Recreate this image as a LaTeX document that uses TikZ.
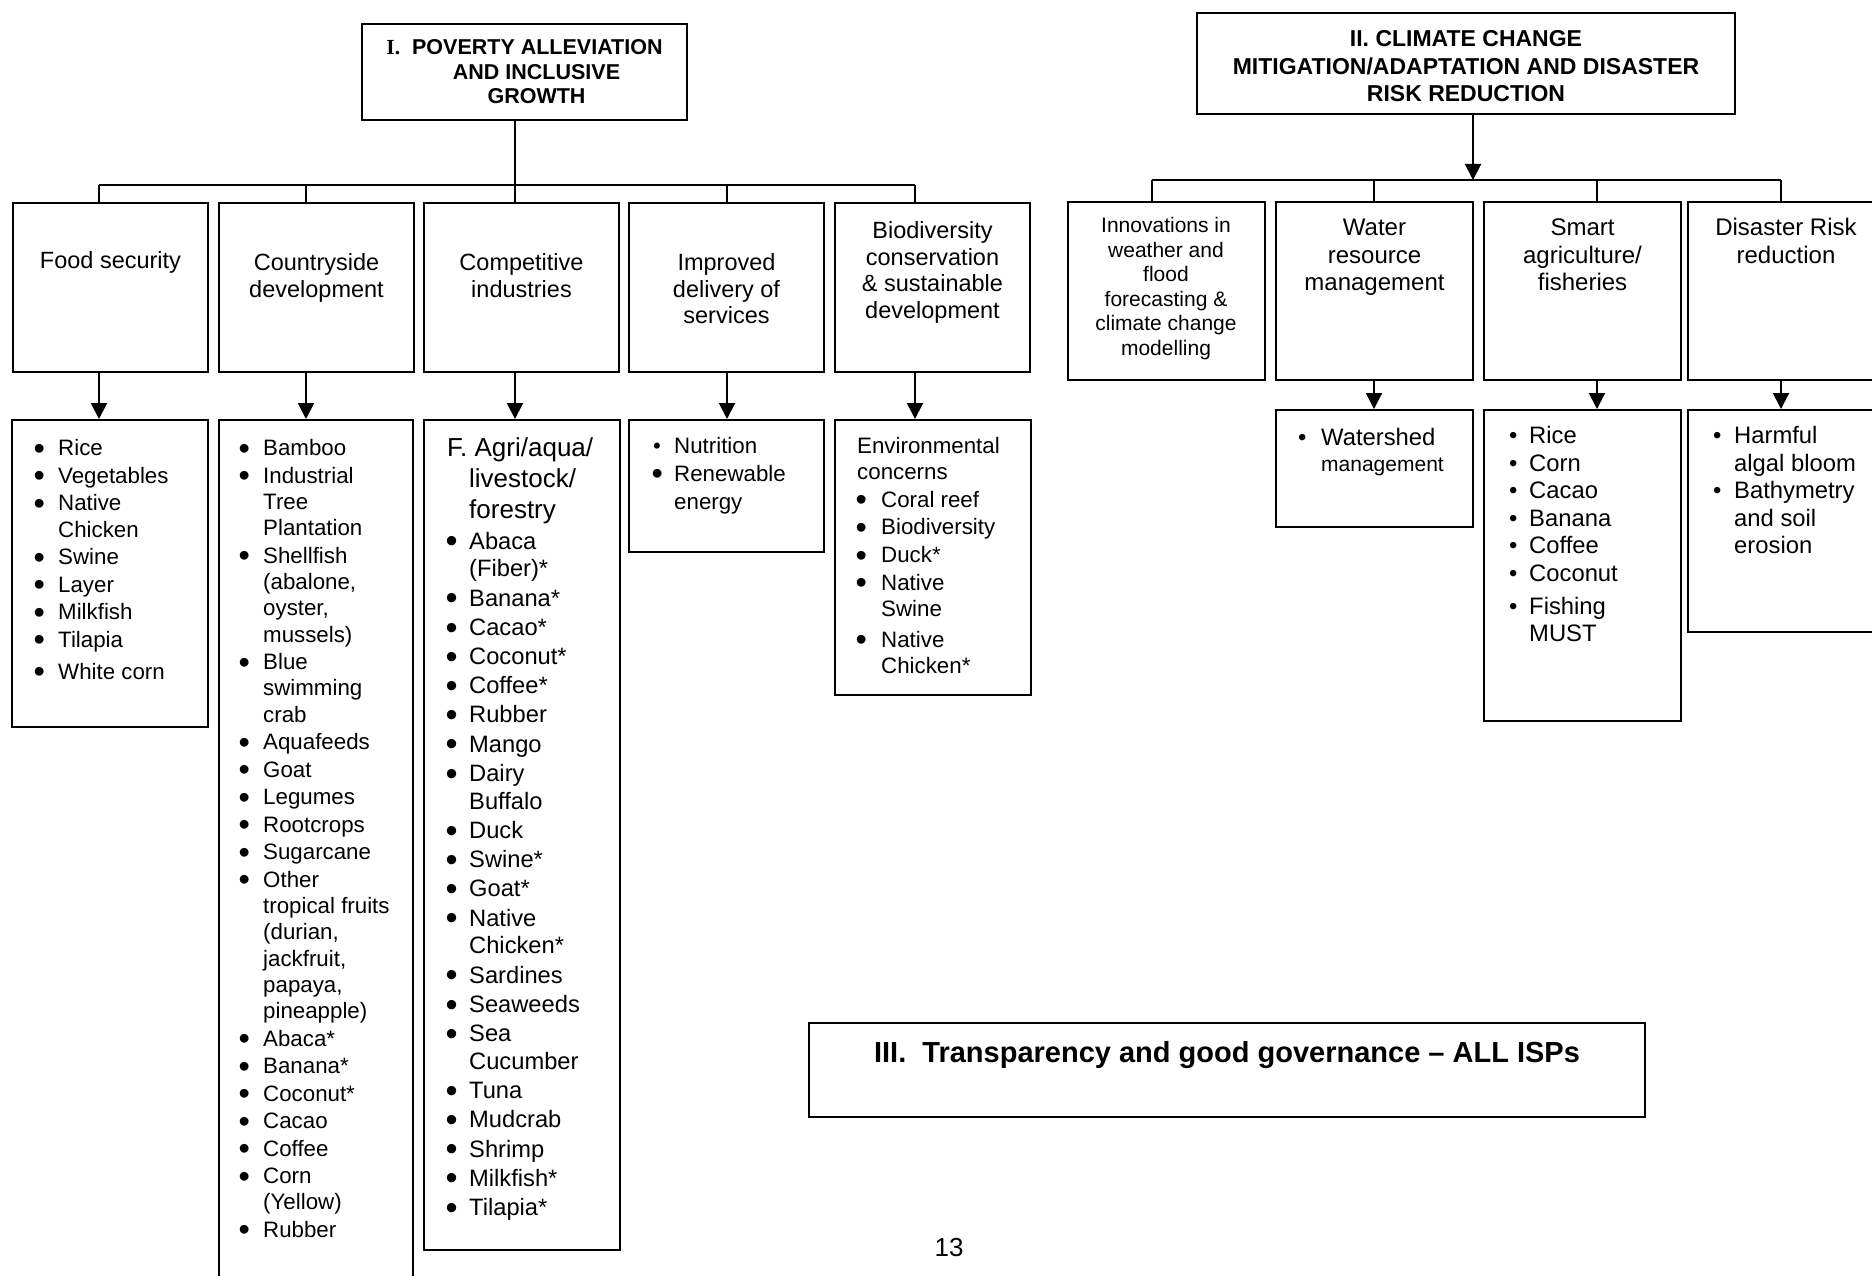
\documentclass[tikz,border=0pt]{standalone}
\usepackage{fontspec}
\setmainfont{Liberation Sans}
\newfontfamily\serifI{Liberation Serif}
\usetikzlibrary{arrows.meta}

% lists and stacked lines, baseline on the first row
\newlength{\igap}
\newcommand{\stack}[1]{\begin{tabular}[t]{@{}c@{}}#1\end{tabular}}
\newcommand{\blist}[3]{\setlength{\igap}{#2}\begin{tabular}[t]{@{}p{#1}@{}l@{}}#3\end{tabular}}
\newcommand{\bigbul}{\hspace*{-1.5pt}\raisebox{-0.16em}{\scalebox{1.45}{\textbullet}}}
\newcommand{\itm}[1]{\bigbul & #1\\[\igap]}
\newcommand{\sitm}[1]{\textbullet & #1\\[\igap]}
\newcommand{\hd}[1]{\multicolumn{2}{@{}l@{}}{#1}}
\newcommand{\gap}[1]{\noalign{\vskip #1}}

% fonts
\newcommand{\fcat}{\fontsize{23.5pt}{26.7pt}\selectfont}
\newcommand{\fcc}{\fontsize{24pt}{27.5pt}\selectfont}
\newcommand{\flist}{\fontsize{22.3pt}{26.3pt}\selectfont}
\newcommand{\fcomp}{\fontsize{23.7pt}{27.9pt}\selectfont}
\newcommand{\fhd}{\fontsize{26pt}{30pt}\selectfont}
\newcommand{\fsec}{\fontsize{23.8pt}{27.5pt}\selectfont}

\tikzset{
  box/.style={draw, line width=2pt, inner sep=0pt},
  conn/.style={line width=2pt},
  arr/.style={line width=2pt, -{Triangle[length=16pt,width=16pt]}},
  txt/.style={inner sep=0pt, anchor=base},
  ltxt/.style={inner sep=0pt, anchor=base west},
  catbox/.style={box, minimum width=195pt, minimum height=169pt},
  ccbox/.style={box, minimum width=197pt, minimum height=178pt}
}

\begin{document}
\begin{tikzpicture}[x=1pt, y=-1pt]
  \useasboundingbox (0,0) rectangle (1872,1276);
  \clip (0,0) rectangle (1872,1276);

  % I. Poverty alleviation
  \node[box, minimum width=325pt, minimum height=96pt, align=center,
        font=\fontsize{21.5pt}{24.5pt}\selectfont\bfseries] (povI) at (524.5,72)
        {{\serifI I.}\ \ POVERTY ALLEVIATION\\\hspace*{24pt}AND INCLUSIVE\\\hspace*{24pt}GROWTH};
  \foreach \n/\x in {food/110.5, country/316.5, compet/521.5, improv/726.5, biodiv/932.5}
    \node[catbox] (\n) at (\x,287.5) {};
  \begin{scope}[font=\fcat]
    \node[txt] (foodT) at (110.5,268.5) {\stack{Food security}};
    \node[txt] (countryT) at (316.5,270.5) {\stack{Countryside\\development}};
    \node[txt] (competT) at (521.5,270.5) {\stack{Competitive\\industries}};
    \node[txt] (improvT) at (726.5,270.5) {\stack{Improved\\delivery of\\services}};
    \node[txt] (biodivT) at (932.5,238.5) {\stack{Biodiversity\\conservation\\\& sustainable\\development}};
  \end{scope}

  % lists under I
  \node[box, minimum width=196pt, minimum height=307pt] (foodL) at (110,573.5) {};
  \node[box, minimum width=194pt, minimum height=870pt] (countryL) at (316,855) {};
  \node[box, minimum width=196pt, minimum height=830pt] (competL) at (522,835) {};
  \node[box, minimum width=195pt, minimum height=132pt] (improvL) at (726.5,486) {};
  \node[box, minimum width=196pt, minimum height=275pt] (biodivL) at (933,557.5) {};

  \node[ltxt, font=\flist] (foodLT) at (35,455.5) {\blist{23pt}{1.3pt}{%
    \itm{Rice}\itm{Vegetables}\itm{Native\\&Chicken}\itm{Swine}\itm{Layer}%
    \itm{Milkfish}\itm{Tilapia}\gap{4.4pt}\itm{White corn}}};
  \node[ltxt, font=\flist] (countryLT) at (240,455.5) {\blist{23pt}{1.2pt}{%
    \itm{Bamboo}\itm{Industrial\\&Tree\\&Plantation}%
    \itm{Shellfish\\&(abalone,\\&oyster,\\&mussels)}\itm{Blue\\&swimming\\&crab}%
    \itm{Aquafeeds}\itm{Goat}\itm{Legumes}\itm{Rootcrops}\itm{Sugarcane}%
    \itm{Other\\&tropical fruits\\&(durian,\\&jackfruit,\\&papaya,\\&pineapple)}%
    \itm{Abaca*}\itm{Banana*}\itm{Coconut*}\itm{Cacao}\itm{Coffee}%
    \itm{Corn\\&(Yellow)}\itm{Rubber}}};
  \node[ltxt, font=\fcomp] (competLT) at (447,456.9) {\blist{22pt}{1.3pt}{%
    \hd{\fhd F. Agri/aqua/}\\[2.8pt]&\fhd livestock/\\[2.8pt]&\fhd forestry\\[2.8pt]%
    \itm{Abaca\\&(Fiber)*}\itm{Banana*}\itm{Cacao*}\itm{Coconut*}\itm{Coffee*}%
    \itm{Rubber}\itm{Mango}\itm{Dairy\\&Buffalo}\itm{Duck}\itm{Swine*}\itm{Goat*}%
    \itm{Native\\&Chicken*}\itm{Sardines}\itm{Seaweeds}\itm{Sea\\&Cucumber}%
    \itm{Tuna}\itm{Mudcrab}\itm{Shrimp}\itm{Milkfish*}\itm{Tilapia*}}};
  \node[ltxt, font=\fontsize{22.3pt}{28pt}\selectfont] (improvLT) at (653,453)
    {\blist{21pt}{0pt}{\sitm{Nutrition}\itm{Renewable\\&energy}}};
  \node[ltxt, font=\fontsize{22.3pt}{26pt}\selectfont] (biodivLT) at (857,453) {\blist{24pt}{1.8pt}{%
    \hd{Environmental}\\\hd{concerns}\\[2pt]\itm{Coral reef}\itm{Biodiversity}\itm{Duck*}%
    \itm{Native\\&Swine}\gap{3pt}\itm{Native\\&Chicken*}}};

  % connectors of I
  \foreach \i/\x in {1/99, 2/306, 3/515, 4/727, 5/915}
    \coordinate (d\i) at (\x,185);
  \draw[conn] (povI.south -| d3) -- (d3);
  \draw[conn] (d1) -- (d5);
  \foreach \i/\n/\l in {1/food/foodL, 2/country/countryL, 3/compet/competL, 4/improv/improvL, 5/biodiv/biodivL} {
    \draw[conn] (d\i) -- (d\i |- \n.north);
    \draw[arr] (d\i |- \n.south) -- (d\i |- \l.north);
  }

  % II. Climate change
  \node[box, minimum width=538pt, minimum height=101pt, align=center,
        font=\fontsize{23pt}{27.5pt}\selectfont\bfseries] (climII) at (1466,63.5)
        {\rule{0pt}{21.3pt}II. CLIMATE CHANGE\\MITIGATION/ADAPTATION AND DISASTER\\RISK REDUCTION};
  \foreach \n/\x in {innov/1166, water/1374.5, smart/1582.5, disas/1786.5}
    \node[ccbox] (\n) at (\x,291) {};
  \node[txt, font=\fontsize{21pt}{24.5pt}\selectfont] (innovT) at (1166,232.6)
    {\stack{Innovations in\\weather and\\flood\\forecasting \&\\climate change\\modelling}};
  \node[txt, font=\fcc] (waterT) at (1374.5,235.6) {\stack{Water\\resource\\management}};
  \node[txt, font=\fcc] (smartT) at (1582.5,235.6) {\stack{Smart\\agriculture/\\fisheries}};
  \node[txt, font=\fcc] (disasT) at (1786,235.6) {\stack{Disaster Risk\\reduction}};

  % lists under II
  \node[box, minimum width=197pt, minimum height=117pt] (waterL) at (1374.5,468.5) {};
  \node[box, minimum width=197pt, minimum height=311pt] (smartL) at (1582.5,565.5) {};
  \node[box, minimum width=197pt, minimum height=222pt] (disasL) at (1786.5,521) {};
  \node[ltxt, font=\fontsize{23.8pt}{26pt}\selectfont] (waterLT) at (1298,445.6)
    {\blist{23pt}{0pt}{\sitm{Watershed\\&{\fontsize{21pt}{24pt}\selectfont management}}}};
  \node[ltxt, font=\fsec] (smartLT) at (1509,443.6) {\blist{20pt}{0pt}{%
    \sitm{Rice}\sitm{Corn}\sitm{Cacao}\sitm{Banana}\sitm{Coffee}\sitm{Coconut}%
    \gap{5.5pt}\sitm{Fishing\\&MUST}}};
  \node[ltxt, font=\fsec] (disasLT) at (1713,443.6) {\blist{21pt}{0pt}{%
    \sitm{Harmful\\&algal bloom}\sitm{Bathymetry\\&and soil\\&erosion}}};

  % connectors of II
  \foreach \i/\x in {1/1152, 2/1374, 3/1597, 4/1781}
    \coordinate (e\i) at (\x,180);
  \coordinate (eTop) at (1473,180);
  \draw[arr] (climII.south -| eTop) -- (eTop);
  \draw[conn] (e1) -- (e4);
  \foreach \i/\n in {1/innov, 2/water, 3/smart, 4/disas}
    \draw[conn] (e\i) -- (e\i |- \n.north);
  \foreach \i/\n/\l in {2/water/waterL, 3/smart/smartL, 4/disas/disasL}
    \draw[arr] (e\i |- \n.south) -- (e\i |- \l.north);

  % III. Governance
  \node[box, minimum width=836pt, minimum height=94pt] (govIII) at (1227,1070) {};
  \node[txt, font=\fontsize{29pt}{34pt}\selectfont\bfseries] (govT) at (1227,1062.4)
    {III.\ \ Transparency and good governance – ALL ISPs};

  % page number
  \node[txt, font=\fontsize{26pt}{30pt}\selectfont] (pageNo) at (949,1256.7) {13};
\end{tikzpicture}
\end{document}
